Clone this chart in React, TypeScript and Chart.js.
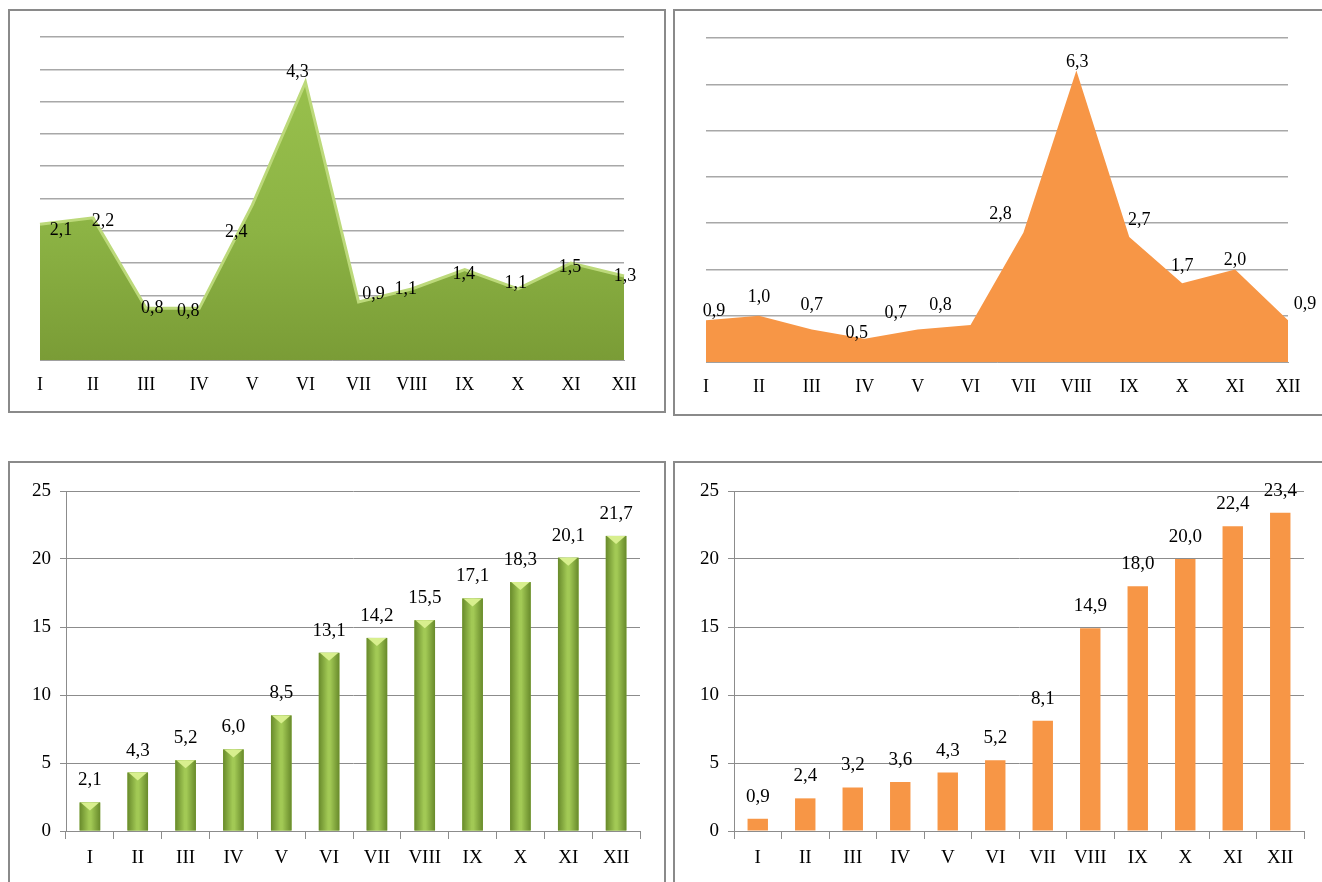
import React, { useEffect, useRef } from "react";
import { Chart, registerables } from "chart.js";

Chart.register(...registerables);

// ---- data ----
const months = ["I", "II", "III", "IV", "V", "VI", "VII", "VIII", "IX", "X", "XI", "XII"];
const monthlyGreen = [2.1, 2.2, 0.8, 0.8, 2.4, 4.3, 0.9, 1.1, 1.4, 1.1, 1.5, 1.3];
const monthlyOrange = [0.9, 1.0, 0.7, 0.5, 0.7, 0.8, 2.8, 6.3, 2.7, 1.7, 2.0, 0.9];
const cumulativeGreen = [2.1, 4.3, 5.2, 6.0, 8.5, 13.1, 14.2, 15.5, 17.1, 18.3, 20.1, 21.7];
const cumulativeOrange = [0.9, 2.4, 3.2, 3.6, 4.3, 5.2, 8.1, 14.9, 18.0, 20.0, 22.4, 23.4];

// ---- label nudges (styling only, pixels) ----
const greenAreaLabelShift = [
  [21, 6], [10, 3], [6, 0], [-11, 3], [-16, 27], [-8, -10],
  [15, -8], [-6, 0], [-1, 5], [-2, -6], [-1, 4], [1, 0],
];
const orangeAreaLabelShift = [
  [8, -9], [0, -18], [0, -24], [-8, -6], [-22, -16], [-30, -20],
  [-23, -18], [1, -8], [10, -17], [0, -17], [0, -9], [17, -16],
];

const SERIF = '"Liberation Serif", "Times New Roman", serif';
const fmt = (v: number) => v.toFixed(1).replace(".", ",");

function valueLabels(shifts: number[][] | null, above: number, size: number) {
  return {
    id: "valueLabels",
    afterDatasetsDraw(chart: any) {
      const ctx = chart.ctx;
      const meta = chart.getDatasetMeta(0);
      const data = chart.data.datasets[0].data as number[];
      ctx.save();
      ctx.font = `${size}px ${SERIF}`;
      ctx.fillStyle = "#000";
      ctx.textAlign = "center";
      ctx.textBaseline = "middle";
      meta.data.forEach((el: any, i: number) => {
        const [dx, dy] = shifts ? shifts[i] : [0, -above];
        ctx.fillText(fmt(data[i]), el.x + dx, el.y + dy);
      });
      ctx.restore();
    },
  };
}

const greenBarShade = {
  id: "greenBarShade",
  afterDatasetDraw(chart: any) {
    const ctx = chart.ctx;
    const meta = chart.getDatasetMeta(0);
    ctx.save();
    meta.data.forEach((el: any) => {
      const { x, y, width, base } = el.getProps(["x", "y", "width", "base"], true);
      const l = x - width / 2;
      const r = x + width / 2;
      const g = ctx.createLinearGradient(l, 0, r, 0);
      g.addColorStop(0, "#688a2b");
      g.addColorStop(0.45, "#a2c955");
      g.addColorStop(0.55, "#a2c955");
      g.addColorStop(1, "#688a2b");
      ctx.fillStyle = g;
      ctx.fillRect(l, y, width, base - y);
      ctx.fillStyle = "#d8ef8e";
      ctx.beginPath();
      ctx.moveTo(l + 1, y);
      ctx.lineTo(r - 1, y);
      ctx.lineTo(x, y + 8);
      ctx.closePath();
      ctx.fill();
    });
    ctx.restore();
  },
};

function greenAreaFill(c: any) {
  const a = c.chart.chartArea;
  if (!a) return "#8db543";
  const g = c.chart.ctx.createLinearGradient(0, a.top, 0, a.bottom);
  g.addColorStop(0, "#9cc44f");
  g.addColorStop(0.6, "#8cb344");
  g.addColorStop(1, "#7a9c36");
  return g;
}

function areaConfig(values: number[], opts: any) {
  return {
    type: "line",
    data: {
      labels: months,
      datasets: [
        {
          data: values,
          fill: "origin",
          backgroundColor: opts.fill,
          borderColor: opts.border,
          borderWidth: opts.borderWidth,
          pointRadius: 0,
          tension: 0,
        },
      ],
    },
    options: {
      animation: false,
      responsive: false,
      layout: { padding: opts.padding },
      plugins: { legend: { display: false }, tooltip: { enabled: false } },
      scales: {
        x: {
          offset: false,
          grid: { display: false, drawTicks: false },
          border: { display: true, color: "#a0a0a0", width: 1 },
          ticks: {
            font: { family: SERIF, size: 18 },
            color: "#000",
            padding: 14,
            maxRotation: 0,
            autoSkip: false,
          },
          afterFit: (s: any) => {
            s.height = 51;
          },
        },
        y: {
          min: 0,
          max: opts.max,
          ticks: { display: false, stepSize: opts.step },
          grid: { color: "#a8a8a8", lineWidth: 1.5, drawTicks: false },
          border: { display: false },
          afterFit: (s: any) => {
            s.width = 0;
          },
        },
      },
    },
    plugins: [valueLabels(opts.shifts, 0, 18)],
  };
}

function barConfig(values: number[], color: string, yWidth: number, padding: any, extra: any[]) {
  return {
    type: "bar",
    data: {
      labels: months,
      datasets: [
        {
          data: values,
          backgroundColor: color,
          borderWidth: 0,
          categoryPercentage: 1,
          barPercentage: 0.43,
        },
      ],
    },
    options: {
      animation: false,
      responsive: false,
      layout: { padding },
      plugins: { legend: { display: false }, tooltip: { enabled: false } },
      scales: {
        x: {
          grid: { display: true, drawOnChartArea: false, drawTicks: true, tickLength: 8, color: "#8c8c8c", offset: true },
          border: { display: true, color: "#8c8c8c", width: 1 },
          ticks: { font: { family: SERIF, size: 19 }, color: "#000", padding: 8, maxRotation: 0, autoSkip: false },
          afterFit: (s: any) => {
            s.height = 51;
          },
        },
        y: {
          min: 0,
          max: 25,
          ticks: { stepSize: 5, font: { family: SERIF, size: 19 }, color: "#000", padding: 9 },
          grid: { color: "#8c8c8c", lineWidth: 1, drawTicks: true, tickLength: 6 },
          border: { display: true, color: "#8c8c8c", width: 1 },
          afterFit: (s: any) => {
            s.width = yWidth;
          },
        },
      },
    },
    plugins: [...extra, valueLabels(null, 22, 19)],
  };
}

function ChartCanvas({ left, top, width, height, make }: any) {
  const ref = useRef<HTMLCanvasElement>(null);
  useEffect(() => {
    const chart = new Chart(ref.current as HTMLCanvasElement, make());
    return () => chart.destroy();
  }, []);
  return (
    <canvas
      ref={ref}
      width={width}
      height={height}
      style={{ position: "absolute", left, top, width, height, display: "block" }}
    />
  );
}

function Panel({ left, top, width, height }: any) {
  return (
    <div
      style={{
        position: "absolute",
        left,
        top,
        width,
        height,
        boxSizing: "border-box",
        border: "2px solid #8a8a8a",
        background: "#fff",
      }}
    />
  );
}

export default function App() {
  return (
    <div
      style={{
        position: "fixed",
        left: 0,
        top: 0,
        width: 1322,
        height: 882,
        background: "#fff",
        overflow: "hidden",
      }}
    >
      <Panel left={8} top={9} width={658} height={404} />
      <Panel left={673} top={9} width={660} height={407} />
      <Panel left={8} top={461} width={658} height={440} />
      <Panel left={673} top={461} width={660} height={440} />

      <ChartCanvas
        left={10}
        top={11}
        width={653}
        height={400}
        make={() =>
          areaConfig(monthlyGreen, {
            fill: greenAreaFill,
            border: "#bcd97a",
            borderWidth: 3,
            max: 5,
            step: 0.5,
            padding: { left: 30, right: 39, top: 26, bottom: 0 },
            shifts: greenAreaLabelShift,
          })
        }
      />
      <ChartCanvas
        left={676}
        top={11}
        width={646}
        height={402}
        make={() =>
          areaConfig(monthlyOrange, {
            fill: "#f79646",
            border: "#f79646",
            borderWidth: 0,
            max: 7,
            step: 1,
            padding: { left: 30, right: 34, top: 27, bottom: 0 },
            shifts: orangeAreaLabelShift,
          })
        }
      />
      <ChartCanvas
        left={10}
        top={463}
        width={653}
        height={419}
        make={() =>
          barConfig(cumulativeGreen, "#8db543", 56, { left: 0, right: 23, top: 28, bottom: 0 }, [greenBarShade])
        }
      />
      <ChartCanvas
        left={676}
        top={463}
        width={646}
        height={419}
        make={() => barConfig(cumulativeOrange, "#f79646", 58, { left: 0, right: 18, top: 28, bottom: 0 }, [])}
      />
    </div>
  );
}
